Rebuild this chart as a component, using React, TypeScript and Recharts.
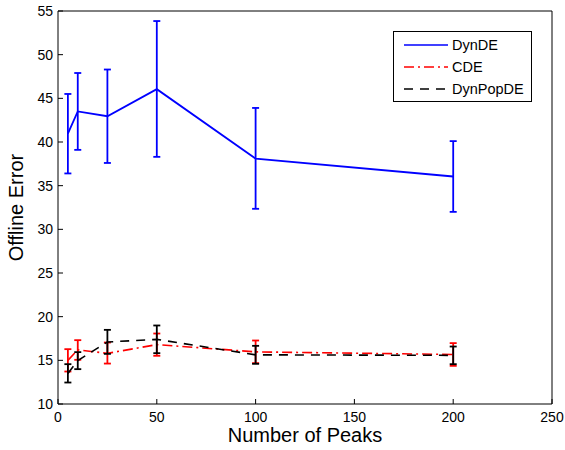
import React from 'react';
import { LineChart, Line, XAxis, YAxis, ErrorBar, Legend } from 'recharts';

const peaks = [5, 10, 25, 50, 100, 200];
const dynDE = [40.95, 43.5, 42.95, 46.05, 38.1, 36.05];
const dynDELow = [36.4, 39.1, 37.6, 38.3, 32.35, 32.0];
const dynDEHigh = [45.5, 47.9, 48.3, 53.85, 43.9, 40.1];
const cde = [15.0, 16.2, 15.8, 16.8, 15.97, 15.67];
const cdeLow = [13.72, 15.06, 14.63, 15.52, 14.68, 14.37];
const cdeHigh = [16.28, 17.31, 17.04, 18.07, 17.27, 16.97];
const dynPopDE = [13.5, 14.97, 17.1, 17.4, 15.63, 15.57];
const dynPopDELow = [12.46, 13.99, 15.74, 15.82, 14.6, 14.56];
const dynPopDEHigh = [14.56, 15.94, 18.49, 18.99, 16.66, 16.58];
const xTicks = [0, 50, 100, 150, 200, 250];
const yTicks = [10, 15, 20, 25, 30, 35, 40, 45, 50, 55];
const seriesNames = ['DynDE', 'CDE', 'DynPopDE'];

const data = peaks.map((p, i) => ({
  peaks: p,
  dynDE: dynDE[i],
  dynDEErr: [dynDE[i] - dynDELow[i], dynDEHigh[i] - dynDE[i]],
  cde: cde[i],
  cdeErr: [cde[i] - cdeLow[i], cdeHigh[i] - cde[i]],
  dynPopDE: dynPopDE[i],
  dynPopDEErr: [dynPopDE[i] - dynPopDELow[i], dynPopDEHigh[i] - dynPopDE[i]],
}));

const FONT = '"Liberation Sans", Arial, Helvetica, sans-serif';
const styles = [
  { color: '#0000ff', dash: undefined as string | undefined },
  { color: '#ff0000', dash: '10 4 2 4' },
  { color: '#000000', dash: '9 7' },
];

const LegendBox = () => (
  <div
    style={{
      border: '1px solid #000',
      background: '#fff',
      width: 137,
      height: 67,
      boxSizing: 'content-box',
      fontFamily: FONT,
      fontSize: 14.5,
      paddingTop: 2,
    }}
  >
    {seriesNames.map((n, i) => (
      <div key={n} style={{ display: 'flex', alignItems: 'center', height: 22 }}>
        <svg width={58} height={22} style={{ display: 'block' }}>
          <line
            x1={10}
            x2={54}
            y1={11}
            y2={11}
            stroke={styles[i].color}
            strokeWidth={1.5}
            strokeDasharray={styles[i].dash}
          />
        </svg>
        <span style={{ color: '#000', lineHeight: '22px' }}>{n}</span>
      </div>
    ))}
  </div>
);

const YLabel = (props: any) => {
  const vb = props.viewBox || {};
  const cx = 16;
  const cy = (vb.y ?? 0) + (vb.height ?? 0) / 2;
  return (
    <text
      x={cx}
      y={cy}
      dy="0.355em"
      textAnchor="middle"
      transform={`rotate(-90 ${cx} ${cy})`}
      fontFamily={FONT}
      fontSize={20}
      fill="#000"
    >
      Offline Error
    </text>
  );
};

export default function App() {
  const tickStyle = { fontFamily: FONT, fontSize: 14, fill: '#000' };
  return (
    <div style={{ position: 'absolute', left: 0, top: 0, width: 565, height: 450, background: '#fff' }}>
      <LineChart width={565} height={450} data={data} margin={{ top: 10, right: 12, left: 0, bottom: 0 }}>
        <XAxis
          dataKey="peaks"
          type="number"
          domain={[0, 250]}
          ticks={xTicks}
          tickSize={-5}
          tickMargin={13}
          height={46}
          stroke="#000"
          tick={tickStyle}
          interval={0}
          label={{
            value: 'Number of Peaks',
            position: 'insideBottom',
            offset: 8,
            style: { fontFamily: FONT, fontSize: 20, fill: '#000' },
          }}
        />
        <XAxis
          xAxisId="top"
          dataKey="peaks"
          orientation="top"
          type="number"
          domain={[0, 250]}
          ticks={xTicks}
          tickSize={-5}
          height={1}
          stroke="#000"
          tick={false}
          interval={0}
        />
        <YAxis
          type="number"
          domain={[10, 55]}
          ticks={yTicks}
          tickSize={-5}
          tickMargin={10}
          width={58}
          stroke="#000"
          tick={tickStyle}
          interval={0}
          label={<YLabel />}
        />
        <YAxis
          yAxisId="right"
          orientation="right"
          type="number"
          domain={[10, 55]}
          ticks={yTicks}
          tickSize={-5}
          width={1}
          stroke="#000"
          tick={false}
          interval={0}
        />
        <Legend
          layout="vertical"
          align="center"
          verticalAlign="middle"
          content={() => <LegendBox />}
          wrapperStyle={{ left: 393, top: 31, width: 139, height: 69 }}
        />
        <Line
          xAxisId="top"
          yAxisId="right"
          dataKey="dynDE"
          stroke="none"
          strokeWidth={0}
          dot={false}
          activeDot={false}
          legendType="none"
          isAnimationActive={false}
        />
        <Line
          dataKey="dynDE"
          name="DynDE"
          stroke={styles[0].color}
          strokeWidth={1.8}
          dot={false}
          isAnimationActive={false}
        >
          <ErrorBar dataKey="dynDEErr" direction="y" width={3.5} stroke={styles[0].color} strokeWidth={1.8} />
        </Line>
        <Line
          dataKey="cde"
          name="CDE"
          stroke={styles[1].color}
          strokeWidth={1.6}
          strokeDasharray={styles[1].dash}
          dot={false}
          isAnimationActive={false}
        >
          <ErrorBar dataKey="cdeErr" direction="y" width={3.5} stroke={styles[1].color} strokeWidth={1.8} />
        </Line>
        <Line
          dataKey="dynPopDE"
          name="DynPopDE"
          stroke={styles[2].color}
          strokeWidth={1.6}
          strokeDasharray={styles[2].dash}
          dot={false}
          isAnimationActive={false}
        >
          <ErrorBar dataKey="dynPopDEErr" direction="y" width={3.5} stroke={styles[2].color} strokeWidth={1.8} />
        </Line>
      </LineChart>
    </div>
  );
}
